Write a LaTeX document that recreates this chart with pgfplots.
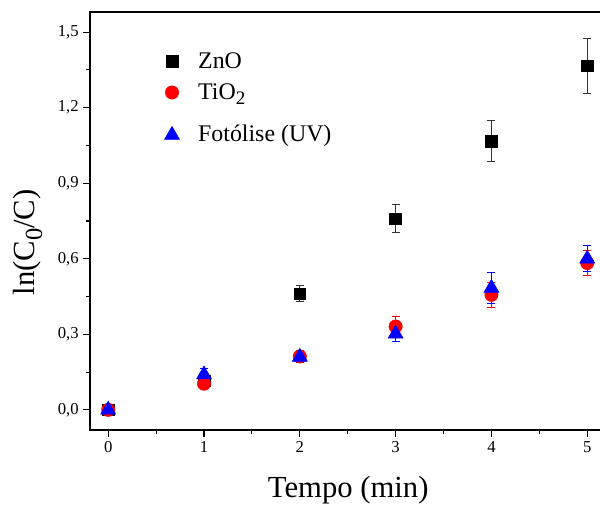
\documentclass[border=0pt]{standalone}
\usepackage{fontspec}
\setmainfont{Liberation Serif}
\usepackage{pgfplots}
\pgfplotsset{compat=1.18}
\newcommand\sub[1]{\raisebox{-0.5ex}{\scalebox{0.8}{#1}}}

\begin{document}
\begin{tikzpicture}
\begin{axis}[
  name=ax, scale only axis,
  width=387.3pt, height=313.5pt,
  xmin=-0.19, xmax=5.2, ymin=-0.08, ymax=1.58,
  xtick={0,1,2,3,4,5}, ytick={0,0.3,0.6,0.9,1.2,1.5},
  minor x tick num=1, minor y tick num=1,
  tick align=outside, tick pos=left,
  major tick length=5pt, minor tick length=3pt,
  axis line style={line width=1.1pt},
  every tick/.style={black, line width=0.8pt},
  /pgf/number format/assume math mode=true,
  yticklabel style={/pgf/number format/.cd, fixed, fixed zerofill, precision=1, use comma},
  tick label style={font=\fontsize{12.5}{14}\selectfont},
  xlabel={Tempo (min)}, ylabel={ln(C\sub{0}/C)},
  label style={font=\fontsize{23}{27}\selectfont},
  xlabel style={at={(axis description cs:0.5,0)}, anchor=center, yshift=-45pt},
  ylabel style={at={(axis description cs:0,0.5)}, anchor=center, yshift=46.5pt, xshift=-16pt},
  legend style={draw=none, fill=none, at={(axis cs:0.585,1.431)}, anchor=north west,
    font=\fontsize{17.9}{21}\selectfont, inner sep=0pt, row sep=6pt, column sep=12pt},
  legend cell align=left,
  error bars/y dir=both, error bars/y explicit,
]
\addplot[only marks, mark=square*, mark size=4.4pt, black,
  error bars/error bar style={line width=0.8pt, black!80},
  error bars/error mark options={rotate=90, mark size=3pt, line width=0.8pt, black!80}]
  coordinates {
  (0,0) +- (0,0.01)
  (1,0.115) +- (0,0.012)
  (2,0.461) +- (0,0.032)
  (3,0.759) +- (0,0.055)
  (4,1.068) +- (0,0.082)
  (5,1.367) +- (0,0.109)
};
\addlegendentry{ZnO}
\addplot[only marks, mark=*, mark size=5pt, red,
  error bars/error bar style={line width=0.8pt, red},
  error bars/error mark options={rotate=90, mark size=3pt, line width=0.8pt, red}]
  coordinates {
  (0,0) +- (0,0.01)
  (1,0.104) +- (0,0.015)
  (2,0.212) +- (0,0.025)
  (3,0.331) +- (0,0.038)
  (4,0.457) +- (0,0.05)
  (5,0.583) +- (0,0.05)
};
\addlegendentry{TiO\sub{2}}
\addplot[only marks, mark=triangle*, mark size=6.5pt, blue,
  legend image post style={yshift=-4.5pt},
  error bars/error bar style={line width=0.8pt, blue},
  error bars/error mark options={rotate=90, mark size=3pt, line width=0.8pt, blue}]
  coordinates {
  (0,0) +- (0,0.01)
  (1,0.14) +- (0,0.025)
  (2,0.21) +- (0,0.022)
  (3,0.302) +- (0,0.03)
  (4,0.484) +- (0,0.06)
  (5,0.600) +- (0,0.052)
};
\addlegendentry{\rule{0pt}{20pt}Fotólise (UV)}
\end{axis}
\pgfresetboundingbox
\useasboundingbox (ax.south west) ++(-67.5pt,-57.75pt) rectangle ++(450pt,380.25pt);
\end{tikzpicture}
\end{document}
